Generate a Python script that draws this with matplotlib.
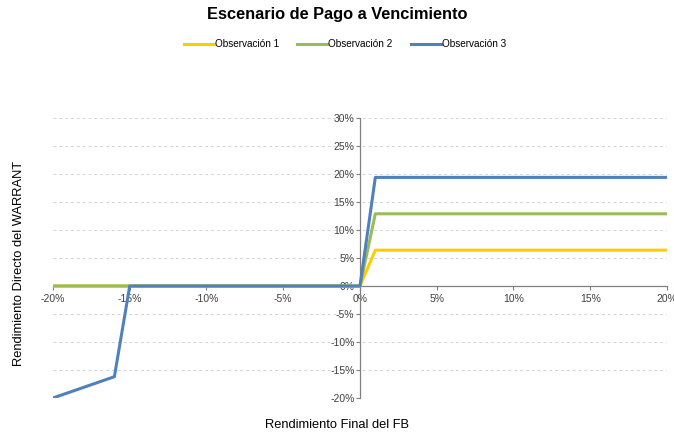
import matplotlib.pyplot as plt
from matplotlib.ticker import FuncFormatter

plt.rcParams['font.family'] = ['Liberation Sans', 'DejaVu Sans']

# datos (en %)
x_obs1 = [-20, 0, 1, 20]
y_obs1 = [0, 0, 6.4, 6.4]

x_obs2 = [-20, 0, 1, 20]
y_obs2 = [0, 0, 12.9, 12.9]

x_obs3 = [-20, -16, -15, 0, 1, 20]
y_obs3 = [-20, -16.2, 0, 0, 19.4, 19.4]

etiquetas = ["Observación 1", "Observación 2", "Observación 3"]
colores = ["#FFCC00", "#9BBB59", "#4F81BD"]

fig = plt.figure(figsize=(6.74, 4.34), dpi=100)
ax = fig.add_axes([0.0786, 0.083, 0.911, 0.645])

ax.plot(x_obs1, y_obs1, color=colores[0], lw=2.2, label=etiquetas[0], zorder=3)
ax.plot(x_obs2, y_obs2, color=colores[1], lw=2.2, label=etiquetas[1], zorder=4)
ax.plot(x_obs3, y_obs3, color=colores[2], lw=2.2, label=etiquetas[2], zorder=5)

ax.set_xlim(-20, 20)
ax.set_ylim(-20, 30)
ax.set_xticks(range(-20, 21, 5))
ax.set_yticks(range(-20, 31, 5))
pct = FuncFormatter(lambda v, p: "%d%%" % round(v))
ax.xaxis.set_major_formatter(pct)
ax.yaxis.set_major_formatter(pct)

# ejes cruzando en el origen
ax.spines['left'].set_position(('data', 0))
ax.spines['bottom'].set_position(('data', 0))
ax.spines['right'].set_visible(False)
ax.spines['top'].set_visible(False)
for s in ('left', 'bottom'):
    ax.spines[s].set_color('#808080')
    ax.spines[s].set_linewidth(0.9)
    ax.spines[s].set_zorder(2.5)
ax.tick_params(axis='both', labelsize=7.5, colors='#404040', length=3,
               direction='out', width=0.8)
ax.tick_params(axis='both', color='#808080')
ax.tick_params(axis='x', pad=3)
ax.tick_params(axis='y', pad=1)

ax.grid(axis='y', linestyle=(0, (3, 3)), color='#d4d4d4', lw=0.7)
ax.set_axisbelow(True)

fig.suptitle("Escenario de Pago a Vencimiento", fontsize=11.8, fontweight='bold',
             y=0.985)
fig.legend(loc='upper center', bbox_to_anchor=(0.512, 0.93), ncol=3,
           frameon=False, fontsize=7.2, handlelength=3.0, columnspacing=1.8,
           handletextpad=0.1)

fig.text(0.5, 0.021, "Rendimiento Final del FB", ha='center', va='center',
         fontsize=9.3)
fig.text(0.028, 0.394, "Rendimiento Directo del WARRANT", ha='center',
         va='center', rotation=90, fontsize=9.3)

fig.savefig("out.png", dpi=100)
